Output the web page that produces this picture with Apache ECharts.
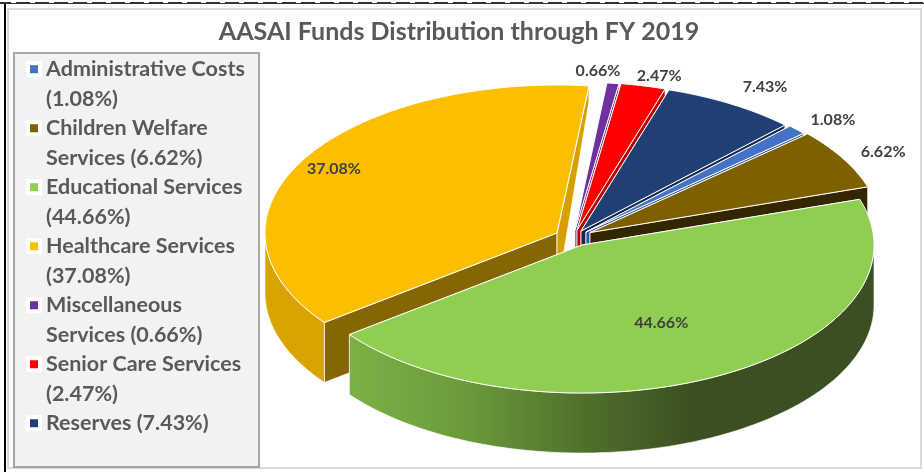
<!DOCTYPE html>
<html>
<head>
<meta charset="utf-8">
<style>
  html, body { margin: 0; padding: 0; background: #fff; }
  #chart { width: 924px; height: 472px; }
</style>
<script src="https://cdn.jsdelivr.net/npm/echarts@6/dist/echarts.min.js"></script>
</head>
<body>
<div id="chart"></div>
<script>
const chartTitle = 'AASAI Funds Distribution through FY 2019';
const categories = ['Administrative Costs', 'Children Welfare Services', 'Educational Services', 'Healthcare Services', 'Miscellaneous Services', 'Senior Care Services', 'Reserves'];
const shares = [1.08, 6.62, 44.66, 37.08, 0.66, 2.47, 7.43];
// the blank first line keeps the legend symbol level with the first text line
const legendLines = [
  ' \nAdministrative Costs\n(1.08%)',
  ' \nChildren Welfare\nServices (6.62%)',
  ' \nEducational Services\n(44.66%)',
  ' \nHealthcare Services\n(37.08%)',
  ' \nMiscellaneous\nServices (0.66%)',
  ' \nSenior Care Services\n(2.47%)',
  ' \nReserves (7.43%)\n '
];

// colours: top, cut face at start / end of the slice, outer wall
const topColors = ['#4472C4', '#7F6000', '#8FCE50', '#FBBF00', '#7030A0', '#FF0000', '#203F74'];
const startFace = ['#2F5597', '#332600', '#5F8A30', '#866600', '#4F2272', '#C00000', '#16294C'];
const endFace = ['#2F5597', '#332600', '#5F8A30', '#D6A100', '#4F2272', '#C00000', '#16294C'];

// 3D look of the pie
const RX = 292, RY = 148, DEPTH = 60, START_ANGLE = -45.7;
// exploded slice centres and draw order (back to front)
const sliceCentre = [[586, 232], [590, 232.5], [582, 245], [557, 233], [575, 230], [577, 230], [581, 231]];
const drawOrder = [4, 5, 7, 6, 1, 2, 3];
// label nudge from the point of the rim at mid angle
const labelNudge = [[36, -10], [40, -6.5], [-56, -53], [31, 9], [-15, -12], [16, -10], [34, -17]];

const total = shares.reduce((a, b) => a + b, 0);
const rad = d => d * Math.PI / 180;
const rim = (c, deg, dy) => [c[0] + RX * Math.cos(rad(deg)), c[1] + RY * Math.sin(rad(deg)) + (dy || 0)];

function arcPoints(c, a0, a1, dy) {
  const pts = [];
  const n = Math.max(2, Math.ceil(Math.abs(a1 - a0)));
  for (let i = 0; i <= n; i++) pts.push(rim(c, a0 + (a1 - a0) * i / n, dy));
  return pts;
}

function poly(points, fill, stroke, lw) {
  return { type: 'polygon', shape: { points: points }, style: { fill: fill, stroke: stroke || fill, lineWidth: lw === undefined ? 1 : lw, lineJoin: 'round' } };
}

function cutFace(c, deg, color, rimDepth) {
  const p = rim(c, deg);
  return poly([c, p, [p[0], p[1] + rimDepth], [c[0], c[1] + DEPTH]], color, '#fff', 0.8);
}

function wallFill(i) {
  if (i !== 2) return i === 3 ? '#DAA400' : topColors[i];
  return {
    type: 'linear', global: true, x: 347, y: 0, x2: 690, y2: 0,
    colorStops: [
      { offset: 0, color: '#7DB146' },
      { offset: 0.35, color: '#6C9A3B' },
      { offset: 0.7, color: '#4F6E2B' },
      { offset: 1, color: '#3A5020' }
    ]
  };
}

function renderSlice(i) {
  return function (params, api) {
    const before = shares.slice(0, i).reduce((a, b) => a + b, 0);
    const a0 = START_ANGLE + before / total * 360;
    const a1 = a0 + api.value(0) / total * 360;
    const c = sliceCentre[i];
    // the back cut of the big yellow slice narrows towards the rim
    const children = [cutFace(c, a0, startFace[i], DEPTH), cutFace(c, a1, endFace[i], i === 3 ? 16 : DEPTH)];

    // outer wall only where it faces the viewer
    const w0 = Math.max(a0, 0), w1 = Math.min(a1, 180);
    if (w1 > w0) {
      const top = arcPoints(c, w0, w1, 0);
      const bottom = arcPoints(c, w1, w0, DEPTH);
      children.push(poly(top.concat(bottom), wallFill(i), '#fff', 0.6));
    }
    children.push(poly([c].concat(arcPoints(c, a0, a1, 0)), topColors[i], '#fff', 1));

    const mid = rim(c, (a0 + a1) / 2);
    children.push({
      type: 'text',
      style: {
        text: api.value(0).toFixed(2) + '%',
        x: mid[0] + labelNudge[i][0],
        y: mid[1] + labelNudge[i][1],
        align: 'center',
        verticalAlign: 'middle',
        fill: '#404040',
        font: 'bold 16px Lato, sans-serif'
      }
    });
    return { type: 'group', children: children };
  };
}

const myChart = echarts.init(document.getElementById('chart'), null, { renderer: 'canvas' });

const option = {
  animation: false,
  backgroundColor: '#fff',
  title: {
    text: chartTitle,
    left: 454,
    top: 14,
    textAlign: 'center',
    textStyle: { color: '#595959', fontFamily: 'Lato', fontWeight: 'bold', fontSize: 25 }
  },
  legend: {
    orient: 'vertical',
    left: 21,
    top: 20,
    height: 450,
    icon: 'rect',
    itemWidth: 12,
    itemHeight: 12,
    itemGap: -29.5,
    selectedMode: false,
    itemStyle: { borderColor: '#fff', borderWidth: 4 },
    formatter: name => legendLines[categories.indexOf(name)],
    textStyle: {
      color: '#595959',
      fontFamily: 'Lato',
      fontWeight: 'bold',
      fontSize: 21.5,
      lineHeight: 29.5,
      padding: [0, 0, 0, 1]
    },
    data: categories
  },
  graphic: [
    { type: 'rect', z: -10, silent: true, shape: { x: 8, y: 9, width: 913, height: 459 }, style: { fill: '#fff', stroke: '#D9D9D9', lineWidth: 2 } },
    { type: 'rect', z: -9, silent: true, shape: { x: 14, y: 53, width: 245, height: 414 }, style: { fill: '#F2F2F2', stroke: '#A6A6A6', lineWidth: 2 } },
    { type: 'rect', z: -8, silent: true, shape: { x: 4, y: 2, width: 2, height: 470 }, style: { fill: '#000' } },
    { type: 'rect', z: -8, silent: true, shape: { x: 0, y: 2, width: 924, height: 2 }, style: { fill: '#333' } },
    { type: 'line', z: -7, silent: true, shape: { x1: 11, y1: 1.5, x2: 924, y2: 1.5 }, style: { stroke: '#fff', lineWidth: 3, lineDash: [5, 14] } }
  ],
  series: categories.map((name, i) => ({
    type: 'custom',
    name: name,
    coordinateSystem: 'none',
    z: drawOrder[i],
    silent: true,
    itemStyle: { color: topColors[i] },
    data: [[shares[i]]],
    renderItem: renderSlice(i)
  }))
};

myChart.setOption(option);
</script>
</body>
</html>
